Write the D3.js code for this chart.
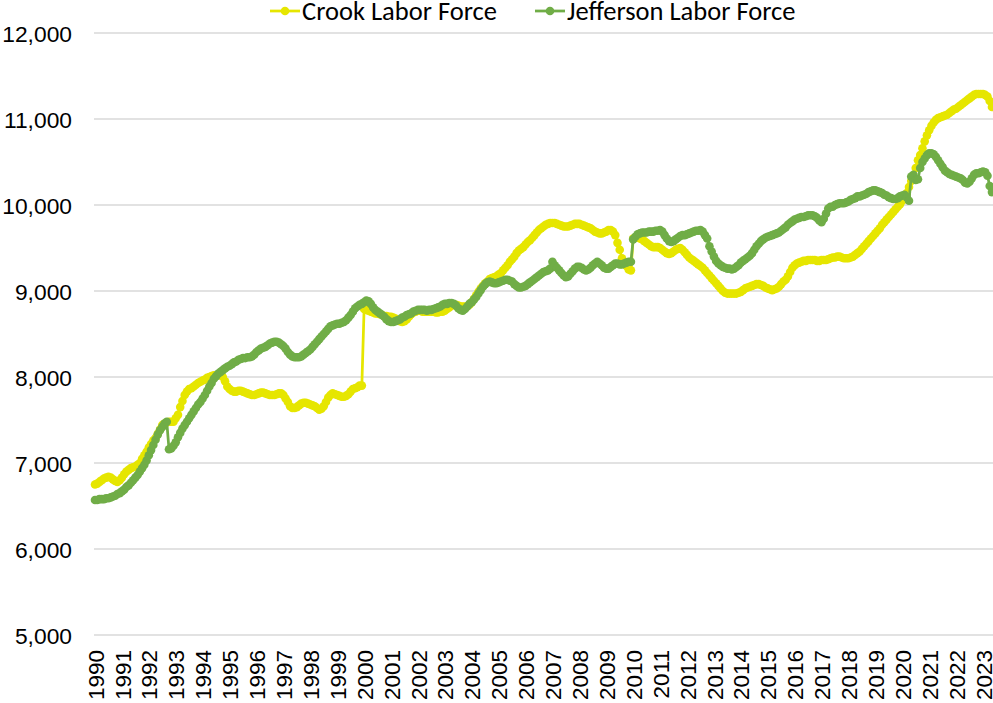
<!DOCTYPE html>
<html>
<head>
<meta charset="utf-8">
<script src="https://cdn.jsdelivr.net/npm/d3@7"></script>
<style>
  html, body { margin: 0; padding: 0; background: #fff; }
  svg { display: block; }
</style>
</head>
<body>
<svg id="chart" width="993" height="703"></svg>
<script>
// ---- Data (monthly, Jan 1990 – May 2023) ----
const yearLabels = ["1990","1991","1992","1993","1994","1995","1996","1997","1998","1999",
  "2000","2001","2002","2003","2004","2005","2006","2007","2008","2009",
  "2010","2011","2012","2013","2014","2015","2016","2017","2018","2019",
  "2020","2021","2022","2023"];

const seriesNames = ["Crook Labor Force", "Jefferson Labor Force"];

const crookLaborForce = [
  6750, 6760, 6780, 6800, 6820, 6830, 6840, 6830, 6810, 6790, 6780, 6800, // 1990
  6830, 6870, 6900, 6920, 6940, 6950, 6960, 6980, 7000, 7050, 7090, 7130, // 1991
  7180, 7220, 7260, 7290, 7340, 7390, 7440, 7460, 7470, 7480, 7480, 7480, // 1992
  7520, 7560, 7650, 7720, 7790, 7830, 7860, 7870, 7890, 7910, 7930, 7945, // 1993
  7960, 7970, 7990, 8000, 8010, 8020, 8020, 8030, 8020, 8000, 7950, 7890, // 1994
  7860, 7840, 7830, 7830, 7840, 7840, 7830, 7820, 7810, 7800, 7790, 7790, // 1995
  7800, 7810, 7820, 7820, 7810, 7800, 7790, 7790, 7790, 7800, 7810, 7810, // 1996
  7790, 7750, 7710, 7660, 7640, 7640, 7650, 7670, 7690, 7700, 7700, 7690, // 1997
  7680, 7670, 7660, 7640, 7620, 7630, 7660, 7710, 7760, 7790, 7810, 7800, // 1998
  7790, 7780, 7770, 7770, 7780, 7800, 7830, 7860, 7870, 7880, 7900, 7900, // 1999
  8790, 8780, 8770, 8760, 8750, 8740, 8740, 8730, 8720, 8710, 8710, 8700, // 2000
  8700, 8690, 8680, 8660, 8650, 8640, 8650, 8670, 8700, 8730, 8750, 8760, // 2001
  8770, 8770, 8760, 8760, 8760, 8760, 8760, 8760, 8750, 8750, 8760, 8760, // 2002
  8770, 8790, 8810, 8830, 8840, 8840, 8830, 8820, 8820, 8820, 8820, 8840, // 2003
  8870, 8910, 8950, 8990, 9030, 9060, 9090, 9110, 9140, 9150, 9160, 9170, // 2004
  9190, 9210, 9240, 9270, 9300, 9340, 9370, 9400, 9440, 9470, 9490, 9510, // 2005
  9540, 9570, 9590, 9620, 9650, 9680, 9710, 9730, 9750, 9770, 9780, 9790, // 2006
  9790, 9790, 9780, 9770, 9760, 9750, 9750, 9750, 9760, 9770, 9780, 9780, // 2007
  9780, 9770, 9760, 9750, 9740, 9730, 9710, 9690, 9680, 9670, 9670, 9680, // 2008
  9690, 9710, 9710, 9690, 9650, 9560, 9480, 9380, 9330, 9290, 9250, 9240, // 2009
  9610, 9620, 9620, 9610, 9600, 9580, 9560, 9540, 9520, 9510, 9510, 9510, // 2010
  9500, 9480, 9460, 9440, 9430, 9440, 9460, 9480, 9490, 9500, 9480, 9450, // 2011
  9420, 9390, 9370, 9350, 9330, 9310, 9290, 9270, 9240, 9210, 9180, 9150, // 2012
  9120, 9090, 9060, 9030, 9000, 8980, 8970, 8970, 8970, 8970, 8970, 8980, // 2013
  8990, 9010, 9030, 9040, 9050, 9060, 9070, 9080, 9080, 9070, 9060, 9040, // 2014
  9030, 9020, 9010, 9020, 9030, 9050, 9080, 9110, 9130, 9170, 9220, 9270, // 2015
  9300, 9320, 9330, 9340, 9350, 9350, 9360, 9360, 9360, 9360, 9350, 9350, // 2016
  9360, 9360, 9360, 9370, 9380, 9390, 9390, 9400, 9400, 9390, 9380, 9380, // 2017
  9380, 9390, 9400, 9420, 9440, 9460, 9490, 9520, 9550, 9580, 9610, 9640, // 2018
  9670, 9700, 9730, 9770, 9800, 9830, 9860, 9890, 9920, 9950, 9980, 10010, // 2019
  10050, 10090, 10140, 10210, 10280, 10330, 10430, 10520, 10580, 10660, 10740, 10810, // 2020
  10870, 10920, 10960, 10990, 11010, 11020, 11030, 11040, 11050, 11070, 11090, 11110, // 2021
  11120, 11140, 11160, 11180, 11200, 11220, 11240, 11260, 11280, 11290, 11290, 11290, // 2022
  11290, 11280, 11260, 11210, 11140 // 2023
];

const jeffersonLaborForce = [
  6570, 6570, 6580, 6580, 6580, 6590, 6590, 6600, 6610, 6620, 6640, 6650, // 1990
  6670, 6690, 6720, 6740, 6770, 6800, 6830, 6860, 6900, 6940, 6980, 7030, // 1991
  7090, 7150, 7210, 7270, 7330, 7380, 7420, 7460, 7480, 7160, 7170, 7200, // 1992
  7240, 7300, 7350, 7400, 7440, 7480, 7520, 7560, 7600, 7640, 7680, 7710, // 1993
  7750, 7790, 7840, 7890, 7930, 7980, 8010, 8040, 8060, 8080, 8100, 8120, // 1994
  8130, 8150, 8170, 8180, 8200, 8210, 8220, 8220, 8230, 8230, 8240, 8260, // 1995
  8290, 8310, 8330, 8340, 8350, 8370, 8390, 8400, 8410, 8410, 8400, 8380, // 1996
  8360, 8330, 8290, 8260, 8240, 8230, 8230, 8230, 8240, 8260, 8280, 8300, // 1997
  8320, 8350, 8380, 8410, 8440, 8470, 8500, 8530, 8560, 8590, 8600, 8610, // 1998
  8620, 8620, 8630, 8640, 8660, 8690, 8720, 8760, 8800, 8820, 8840, 8850, // 1999
  8870, 8890, 8880, 8850, 8810, 8780, 8760, 8740, 8720, 8700, 8670, 8650, // 2000
  8640, 8640, 8650, 8660, 8670, 8690, 8700, 8720, 8730, 8740, 8760, 8770, // 2001
  8780, 8780, 8780, 8780, 8770, 8780, 8780, 8790, 8800, 8810, 8820, 8840, // 2002
  8850, 8850, 8860, 8860, 8850, 8830, 8800, 8780, 8770, 8790, 8820, 8850, // 2003
  8870, 8900, 8930, 8970, 9010, 9050, 9080, 9100, 9110, 9100, 9090, 9090, // 2004
  9100, 9110, 9120, 9130, 9130, 9120, 9110, 9080, 9060, 9040, 9040, 9050, // 2005
  9060, 9080, 9100, 9120, 9140, 9160, 9180, 9200, 9220, 9230, 9240, 9260, // 2006
  9340, 9300, 9270, 9240, 9210, 9180, 9160, 9170, 9200, 9230, 9260, 9280, // 2007
  9280, 9270, 9250, 9240, 9250, 9270, 9300, 9320, 9340, 9320, 9300, 9270, // 2008
  9260, 9260, 9280, 9300, 9320, 9320, 9310, 9310, 9320, 9330, 9340, 9340, // 2009
  9600, 9630, 9660, 9670, 9680, 9680, 9680, 9690, 9690, 9690, 9700, 9700, // 2010
  9710, 9690, 9650, 9610, 9580, 9570, 9580, 9600, 9620, 9640, 9650, 9650, // 2011
  9660, 9670, 9680, 9690, 9700, 9700, 9710, 9690, 9650, 9610, 9520, 9460, // 2012
  9400, 9350, 9320, 9300, 9280, 9270, 9260, 9260, 9250, 9260, 9280, 9300, // 2013
  9330, 9350, 9370, 9390, 9410, 9440, 9480, 9520, 9550, 9580, 9600, 9620, // 2014
  9630, 9640, 9650, 9660, 9670, 9680, 9700, 9720, 9740, 9770, 9790, 9810, // 2015
  9830, 9840, 9850, 9860, 9860, 9870, 9880, 9880, 9880, 9870, 9850, 9820, // 2016
  9800, 9840, 9900, 9960, 9980, 9980, 10000, 10010, 10020, 10020, 10020, 10030, // 2017
  10040, 10060, 10070, 10080, 10100, 10100, 10110, 10120, 10130, 10150, 10160, 10170, // 2018
  10170, 10160, 10150, 10140, 10120, 10110, 10090, 10080, 10070, 10070, 10080, 10100, // 2019
  10110, 10120, 10090, 10050, 10330, 10350, 10290, 10300, 10430, 10500, 10540, 10580, // 2020
  10600, 10600, 10590, 10560, 10520, 10480, 10440, 10400, 10380, 10360, 10350, 10340, // 2021
  10330, 10320, 10310, 10290, 10260, 10250, 10270, 10310, 10350, 10370, 10370, 10380, // 2022
  10390, 10380, 10340, 10220, 10150 // 2023
];

const yTicks = [5000, 6000, 7000, 8000, 9000, 10000, 11000, 12000];
const seriesColors = ["#E6E600", "#70AD47"];

// ---- Build month categories ----
const months = [];
yearLabels.forEach(y => { for (let m = 1; m <= 12; m++) months.push(y + "-" + String(m).padStart(2, "0")); });
const categories = months.slice(0, crookLaborForce.length);

// ---- Layout ----
const svg = d3.select("#chart");
const W = 993, H = 703;
const plotLeft = 94, plotRight = 993, plotTop = 33, plotBottom = 635;
const catStep = 2.2424;

const x = d3.scalePoint()
  .domain(categories)
  .range([95, 95 + (categories.length - 1) * catStep]);

const y = d3.scaleLinear().domain([5000, 12000]).range([plotBottom, plotTop]);

// Gridlines
svg.append("g")
  .selectAll("line")
  .data(yTicks)
  .join("line")
  .attr("x1", plotLeft).attr("x2", plotRight)
  .attr("y1", d => y(d)).attr("y2", d => y(d))
  .attr("stroke", "#D9D9D9").attr("stroke-width", 1.3);

// Y axis
const yAxis = svg.append("g")
  .attr("transform", `translate(${plotLeft - 22},0)`)
  .call(d3.axisLeft(y).tickValues(yTicks).tickSize(0).tickFormat(d3.format(",")));
yAxis.select(".domain").remove();
yAxis.selectAll("text")
  .attr("x", 0)
  .attr("dy", "0.36em")
  .style("font-family", "'Liberation Sans', Arial, sans-serif")
  .style("font-size", "22.8px")
  .attr("fill", "#000");

// X axis (year labels at January of each year)
const xAxis = svg.append("g")
  .attr("transform", `translate(0,${plotBottom})`)
  .call(d3.axisBottom(x)
    .tickValues(yearLabels.map(yv => yv + "-01"))
    .tickSize(0)
    .tickFormat(d => d.slice(0, 4)));
xAxis.select(".domain").remove();
xAxis.selectAll("text")
  .attr("transform", "rotate(-90)")
  .attr("text-anchor", "end")
  .attr("x", -15)
  .attr("y", 0)
  .attr("dy", "0.36em")
  .style("font-family", "'Liberation Sans', Arial, sans-serif")
  .style("font-size", "22.5px")
  .attr("fill", "#000");

// Clip to plot area horizontally
svg.append("clipPath").attr("id", "plotclip")
  .append("rect").attr("x", plotLeft - 10).attr("y", 0).attr("width", W - plotLeft + 10).attr("height", H);

const series = [crookLaborForce, jeffersonLaborForce];
const line = d3.line().x((d, i) => x(categories[i])).y(d => y(d));

const marks = svg.append("g").attr("clip-path", "url(#plotclip)");
series.forEach((vals, si) => {
  const g = marks.append("g");
  g.append("path")
    .datum(vals)
    .attr("d", line)
    .attr("fill", "none")
    .attr("stroke", seriesColors[si])
    .attr("stroke-width", 2.75)
    .attr("stroke-linejoin", "round");
  g.selectAll("circle")
    .data(vals)
    .join("circle")
    .attr("cx", (d, i) => x(categories[i]))
    .attr("cy", d => y(d))
    .attr("r", 4.3)
    .attr("fill", seriesColors[si]);
});

// Legend
const legendItems = [
  { name: seriesNames[0], color: seriesColors[0], x0: 270 },
  { name: seriesNames[1], color: seriesColors[1], x0: 535 }
];
const legend = svg.append("g");
legendItems.forEach(it => {
  const lg = legend.append("g").attr("transform", `translate(${it.x0},11)`);
  lg.append("line").attr("x1", 0).attr("x2", 30).attr("y1", 0).attr("y2", 0)
    .attr("stroke", it.color).attr("stroke-width", 2.75);
  lg.append("circle").attr("cx", 15).attr("cy", 0).attr("r", 4.3).attr("fill", it.color);
  lg.append("text")
    .attr("x", 32).attr("y", 9)
    .style("font-family", "Carlito, Lato, 'Open Sans', sans-serif")
    .style("font-size", "26.5px")
    .attr("fill", "#000")
    .text(it.name);
});
</script>
</body>
</html>
